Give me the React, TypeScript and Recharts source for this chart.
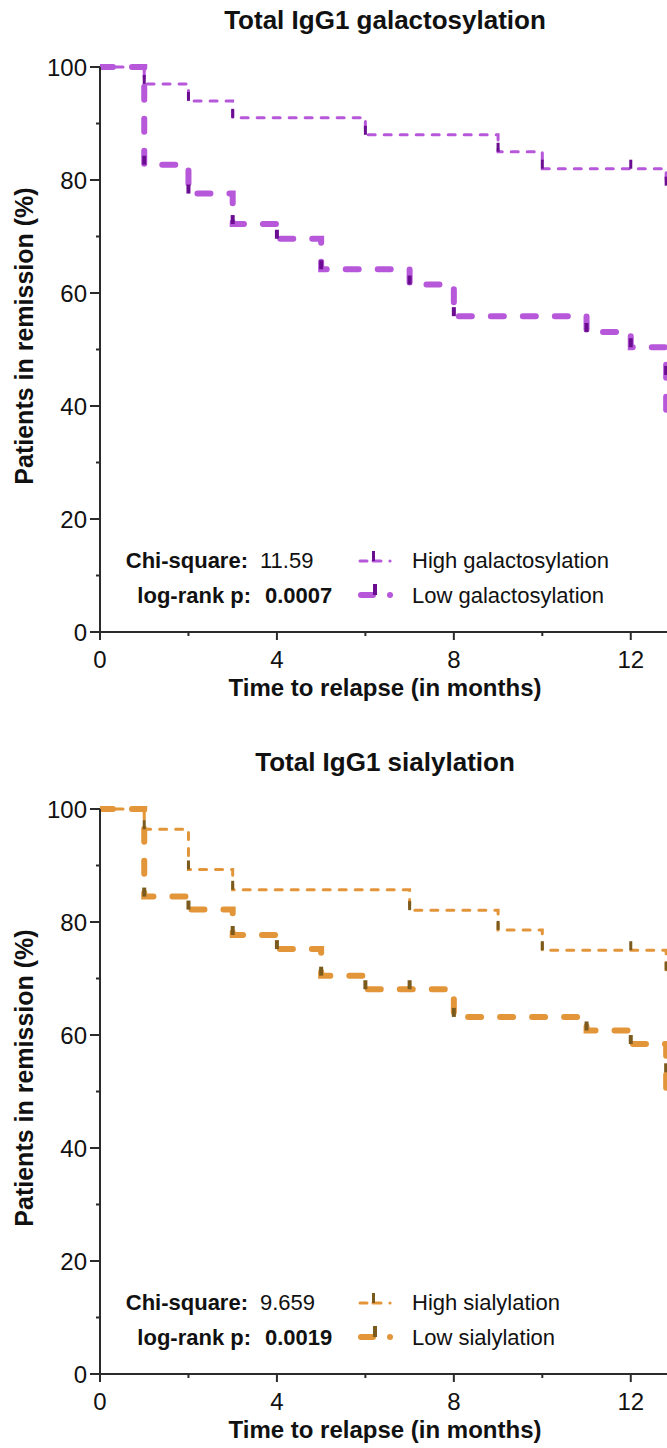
import React from 'react'
import { ComposedChart, Line, Scatter, XAxis, YAxis } from 'recharts'

const FONT = '"Liberation Sans", Arial, Helvetica, sans-serif'
const AXIS = '#2b2b2b'
const TEXT = '#111'

// Total IgG1 galactosylation (months / % in remission)
const galHighMonths = [0, 1, 2, 3, 6, 9, 10, 12.8, 13]
const galHighPct = [100, 97, 94, 91, 88, 85, 82, 79, 79]
const galHighMarkMonths = [1, 2, 3, 6, 9, 10, 12, 12.8]
const galHighMarkPct = [97, 94, 91, 88, 85, 82, 82, 79]

const galLowMonths = [0, 1, 2, 3, 4, 5, 7, 8, 11, 12, 12.8, 12.8, 13]
const galLowPct = [100, 82.7, 77.6, 72.2, 69.6, 64.2, 61.5, 55.9, 53.1, 50.4, 45.5, 39.3, 39.3]
const galLowMarkMonths = [1, 2, 3, 4, 5, 7, 8, 11, 12, 12.8]
const galLowMarkPct = [82.7, 77.6, 72.2, 69.6, 64.2, 61.5, 55.9, 53.1, 50.4, 45.5]

// Total IgG1 sialylation
const siaHighMonths = [0, 1, 2, 3, 7, 9, 10, 12.8, 13]
const siaHighPct = [100, 96.4, 89.3, 85.7, 82.1, 78.6, 75.0, 71.4, 71.4]
const siaHighMarkMonths = [1, 2, 3, 7, 9, 10, 12, 12.8]
const siaHighMarkPct = [96.4, 89.3, 85.7, 82.1, 78.6, 75.0, 75.0, 71.4]

const siaLowMonths = [0, 1, 2, 3, 4, 5, 6, 8, 11, 12, 12.8, 12.8, 13]
const siaLowPct = [100, 84.5, 82.2, 77.7, 75.2, 70.5, 68.1, 63.2, 60.8, 58.4, 53.4, 50.5, 50.5]
const siaLowMarkMonths = [1, 2, 3, 4, 5, 6, 7, 8, 11, 12, 12.8]
const siaLowMarkPct = [84.5, 82.2, 77.7, 75.2, 70.5, 68.1, 68.1, 63.2, 60.8, 58.4, 53.4]

const xTicks = [0, 2, 4, 6, 8, 10, 12]
const yTicks = [0, 10, 20, 30, 40, 50, 60, 70, 80, 90, 100]

const toPoints = (months: number[], pct: number[]) => months.map((t, i) => ({ t, p: pct[i] }))

const XTick = (props: any) => {
  const { x, y, payload } = props
  const major = payload.value % 4 === 0
  return (
    <g>
      <line x1={x} x2={x} y1={y} y2={y + (major ? 8 : 4)} stroke={AXIS} strokeWidth={2} />
      {major && (
        <text x={x} y={y + 36} textAnchor="middle" fontSize={24} fontFamily={FONT} fill={TEXT}>
          {payload.value}
        </text>
      )}
    </g>
  )
}

const YTick = (props: any) => {
  const { x, y, payload } = props
  const major = payload.value % 20 === 0
  return (
    <g>
      <line x1={x - (major ? 10 : 4)} x2={x} y1={y} y2={y} stroke={AXIS} strokeWidth={2} />
      {major && (
        <text x={x - 13} y={y} dy="0.36em" textAnchor="end" fontSize={24} fontFamily={FONT} fill={TEXT}>
          {payload.value}
        </text>
      )}
    </g>
  )
}

const markShape = (w: number, color: string) => (props: any) => {
  const { cx, cy } = props
  return <rect x={cx - w / 2} y={cy - 9} width={w} height={9} fill={color} />
}

interface PanelProps {
  title: string
  chi: string
  p: string
  highLabel: string
  lowLabel: string
  light: string
  dark: string
  high: { t: number; p: number }[]
  low: { t: number; p: number }[]
  highMarks: { t: number; p: number }[]
  lowMarks: { t: number; p: number }[]
}

function KMPanel(props: PanelProps) {
  const { title, chi, p, highLabel, lowLabel, light, dark, high, low, highMarks, lowMarks } = props
  return (
    <div style={{ position: 'relative', width: 667, height: 742, overflow: 'hidden' }}>
      <ComposedChart width={700} height={742} margin={{ top: 67, right: 25, bottom: 0, left: 0 }}>
        <XAxis
          type="number"
          dataKey="t"
          domain={[0, 13]}
          ticks={xTicks}
          interval={0}
          allowDataOverflow
          height={110}
          tickSize={0}
          tickMargin={0}
          tickLine={false}
          axisLine={{ stroke: AXIS, strokeWidth: 2 }}
          tick={XTick}
        />
        <YAxis
          type="number"
          dataKey="p"
          domain={[0, 100]}
          ticks={yTicks}
          interval={0}
          width={100}
          tickSize={0}
          tickMargin={0}
          tickLine={false}
          axisLine={{ stroke: AXIS, strokeWidth: 2 }}
          tick={YTick}
        />
        <Line
          data={high}
          dataKey="p"
          type="stepAfter"
          stroke={light}
          strokeWidth={3}
          strokeDasharray="7 9"
          strokeLinecap="round"
          dot={false}
          isAnimationActive={false}
        />
        <Line
          data={low}
          dataKey="p"
          type="stepAfter"
          stroke={light}
          strokeWidth={6}
          strokeDasharray="13 19"
          strokeLinecap="round"
          dot={false}
          isAnimationActive={false}
        />
        <Scatter data={highMarks} dataKey="p" fill={dark} shape={markShape(3, dark)} isAnimationActive={false} />
        <Scatter data={lowMarks} dataKey="p" fill={dark} shape={markShape(4, dark)} isAnimationActive={false} />
      </ComposedChart>
      <svg
        width={667}
        height={742}
        style={{ position: 'absolute', left: 0, top: 0, pointerEvents: 'none' }}
        fontFamily={FONT}
      >
        <text x={385} y={29} textAnchor="middle" fontSize={26} fontWeight="bold" fill={TEXT}>
          {title}
        </text>
        <text x={385} y={696} textAnchor="middle" fontSize={24} fontWeight="bold" fill={TEXT}>
          Time to relapse (in months)
        </text>
        <text
          transform="translate(33,336) rotate(-90)"
          textAnchor="middle"
          fontSize={25}
          fontWeight="bold"
          fill={TEXT}
        >
          Patients in remission (%)
        </text>
        <text x={248} y={568} textAnchor="end" fontSize={22} fontWeight="bold" fill={TEXT}>
          Chi-square:
        </text>
        <text x={260} y={568} fontSize={22} fill={TEXT}>
          {chi}
        </text>
        <text x={251} y={603} textAnchor="end" fontSize={22} fontWeight="bold" fill={TEXT}>
          log-rank p:
        </text>
        <text x={265} y={603} fontSize={22} fontWeight="bold" fill={TEXT}>
          {p}
        </text>
        {/* legend glyphs */}
        <g transform="translate(359,561)">
          <line x1={1} x2={8} y1={0} y2={0} stroke={light} strokeWidth={3} strokeLinecap="round" />
          <line x1={14} x2={22} y1={0} y2={0} stroke={light} strokeWidth={3} strokeLinecap="round" />
          <rect x={13} y={-10} width={3} height={10} fill={dark} />
          <circle cx={31} cy={0} r={1.6} fill={light} />
        </g>
        <g transform="translate(359,595)">
          <line x1={2} x2={14} y1={0} y2={0} stroke={light} strokeWidth={6} strokeLinecap="round" />
          <rect x={14} y={-11} width={4} height={11} fill={dark} />
          <circle cx={31} cy={0} r={3} fill={light} />
        </g>
        <text x={412} y={568} fontSize={22} fill={TEXT}>
          {highLabel}
        </text>
        <text x={412} y={603} fontSize={22} fill={TEXT}>
          {lowLabel}
        </text>
      </svg>
    </div>
  )
}

export default function App() {
  return (
    <div
      style={{
        position: 'absolute',
        left: 0,
        top: 0,
        width: 667,
        height: 1448,
        overflow: 'hidden',
        background: '#fff'
      }}
    >
      <KMPanel
        title="Total IgG1 galactosylation"
        chi="11.59"
        p="0.0007"
        highLabel="High galactosylation"
        lowLabel="Low galactosylation"
        light="#B757D9"
        dark="#6A0D91"
        high={toPoints(galHighMonths, galHighPct)}
        low={toPoints(galLowMonths, galLowPct)}
        highMarks={toPoints(galHighMarkMonths, galHighMarkPct)}
        lowMarks={toPoints(galLowMarkMonths, galLowMarkPct)}
      />
      <KMPanel
        title="Total IgG1 sialylation"
        chi="9.659"
        p="0.0019"
        highLabel="High sialylation"
        lowLabel="Low sialylation"
        light="#E3953A"
        dark="#7B5A1E"
        high={toPoints(siaHighMonths, siaHighPct)}
        low={toPoints(siaLowMonths, siaLowPct)}
        highMarks={toPoints(siaHighMarkMonths, siaHighMarkPct)}
        lowMarks={toPoints(siaLowMarkMonths, siaLowMarkPct)}
      />
    </div>
  )
}
